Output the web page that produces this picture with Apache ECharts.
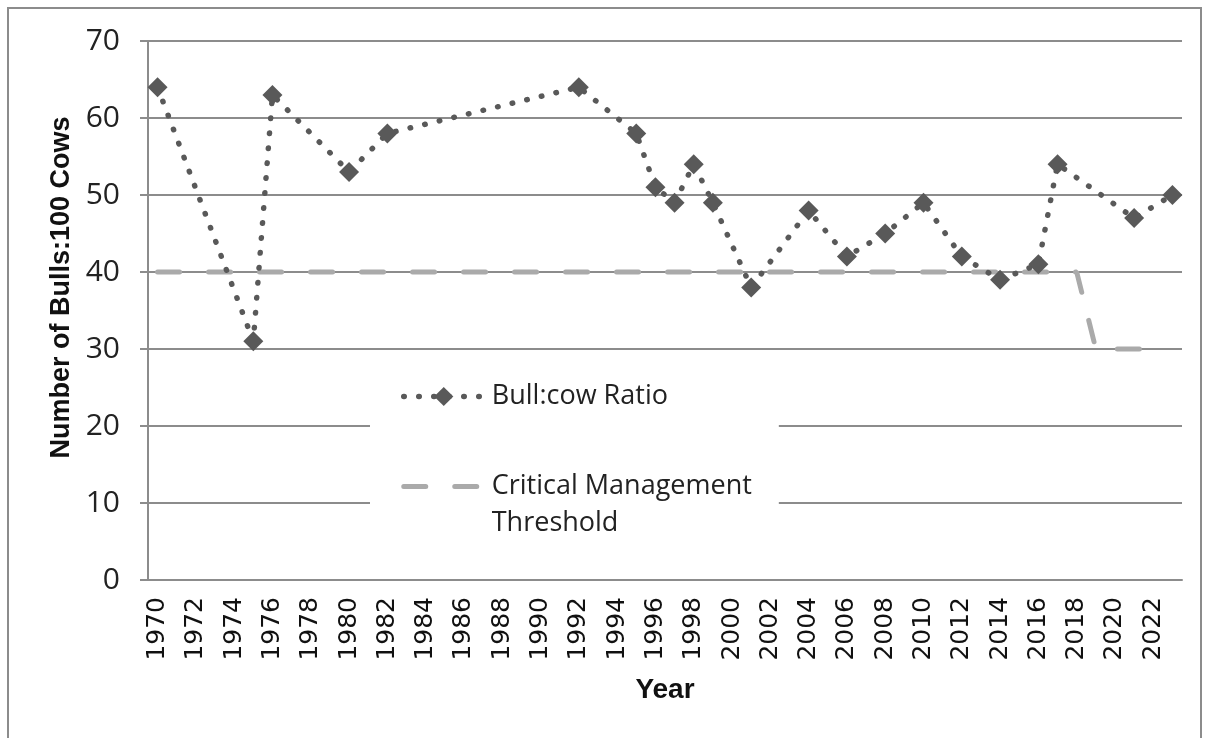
<!DOCTYPE html>
<html>
<head>
<meta charset="utf-8">
<script src="https://cdn.jsdelivr.net/npm/echarts@6/dist/echarts.min.js"></script>
<style>
  html, body { margin: 0; padding: 0; background: #fff; }
  #chart { width: 1209px; height: 738px; }
</style>
</head>
<body>
<div id="chart"></div>
<script>
// x axis categories, one per year
var years = ['1970', '1971', '1972', '1973', '1974', '1975', '1976', '1977', '1978', '1979',
  '1980', '1981', '1982', '1983', '1984', '1985', '1986', '1987', '1988', '1989',
  '1990', '1991', '1992', '1993', '1994', '1995', '1996', '1997', '1998', '1999',
  '2000', '2001', '2002', '2003', '2004', '2005', '2006', '2007', '2008', '2009',
  '2010', '2011', '2012', '2013', '2014', '2015', '2016', '2017', '2018', '2019',
  '2020', '2021', '2022', '2023'];

// survey years and bull:cow ratios
var ratioYears = ['1970', '1975', '1976', '1980', '1982', '1992', '1995', '1996', '1997', '1998',
  '1999', '2001', '2004', '2006', '2008', '2010', '2012', '2014', '2016', '2017', '2021', '2023'];
var ratioValues = [64, 31, 63, 53, 58, 64, 58, 51, 49, 54,
  49, 38, 48, 42, 45, 49, 42, 39, 41, 54, 47, 50];

// critical management threshold
var thresholdYears = ['1970', '2018', '2019', '2022'];
var thresholdValues = [40, 40, 30, 30];

var yTicks = [0, 10, 20, 30, 40, 50, 60, 70];

var ratioName = 'Bull:cow Ratio';
var thresholdName = 'Critical Management\nThreshold';

var pairs = function (xs, ys) {
  return xs.map(function (x, i) { return [x, ys[i]]; });
};

var gray = '#8c8c8c';
var chart = echarts.init(document.getElementById('chart'));

chart.setOption({
  animation: false,
  backgroundColor: '#fff',
  graphic: [{
    type: 'rect',
    shape: { x: 8, y: 8, width: 1193, height: 800 },
    style: { fill: 'none', stroke: gray, lineWidth: 2 },
    silent: true
  }],
  grid: { left: 148, right: 27, top: 41, bottom: 158 },
  legend: {
    orient: 'vertical',
    left: 370,
    top: 362,
    padding: [13, 27, 0, 31],
    backgroundColor: '#fff',
    itemWidth: 80,
    itemHeight: 24,
    itemGap: 10,
    // first line of the threshold label sits beside its icon
    formatter: function (name) {
      return name === thresholdName ? '\n' + name : name;
    },
    textStyle: {
      fontFamily: 'Open Sans',
      fontSize: 27,
      lineHeight: 37,
      color: '#222',
      padding: [6, 0, 0, 3]
    },
    data: [
      { name: ratioName, lineStyle: { width: 5.5 } },
      { name: thresholdName, itemStyle: { opacity: 0 }, lineStyle: { width: 5 } }
    ]
  },
  xAxis: {
    type: 'category',
    data: years,
    boundaryGap: true,
    name: 'Year',
    nameLocation: 'middle',
    nameGap: 96,
    nameTextStyle: { fontFamily: 'Liberation Sans', fontWeight: 'bold', fontSize: 28, color: '#111' },
    axisLine: { lineStyle: { color: gray, width: 2 } },
    axisTick: { interval: 0, length: 7, lineStyle: { color: gray, width: 2 } },
    axisLabel: {
      interval: 1,
      rotate: 90,
      margin: 17,
      fontFamily: 'DejaVu Sans',
      fontSize: 25,
      color: '#111'
    },
    splitLine: { show: false }
  },
  yAxis: {
    type: 'value',
    min: yTicks[0],
    max: yTicks[yTicks.length - 1],
    interval: 10,
    name: 'Number of Bulls:100 Cows',
    nameLocation: 'middle',
    nameRotate: 90,
    nameGap: 69,
    nameTextStyle: {
      fontFamily: 'Liberation Sans', fontWeight: 'bold', fontSize: 27, color: '#111',
      padding: [0, 0, 0, 46]
    },
    axisLine: { show: true, lineStyle: { color: gray, width: 2 } },
    axisTick: { show: true, length: 8, lineStyle: { color: gray, width: 2 } },
    axisLabel: { margin: 28, fontFamily: 'Open Sans', fontSize: 30, color: '#222' },
    splitLine: { lineStyle: { color: gray, width: 2 } }
  },
  series: [
    {
      name: ratioName,
      type: 'line',
      data: pairs(ratioYears, ratioValues),
      symbol: 'diamond',
      symbolSize: 20,
      showAllSymbol: true,
      itemStyle: { color: '#595959' },
      lineStyle: { color: '#595959', width: 5.5, type: [0.5, 14.5], cap: 'round' },
      z: 3
    },
    {
      name: thresholdName,
      type: 'line',
      data: pairs(thresholdYears, thresholdValues),
      symbol: 'none',
      itemStyle: { color: '#aaaaaa' },
      lineStyle: { color: '#aaaaaa', width: 5, type: [22, 29], cap: 'round' },
      z: 2
    }
  ]
});
</script>
</body>
</html>
